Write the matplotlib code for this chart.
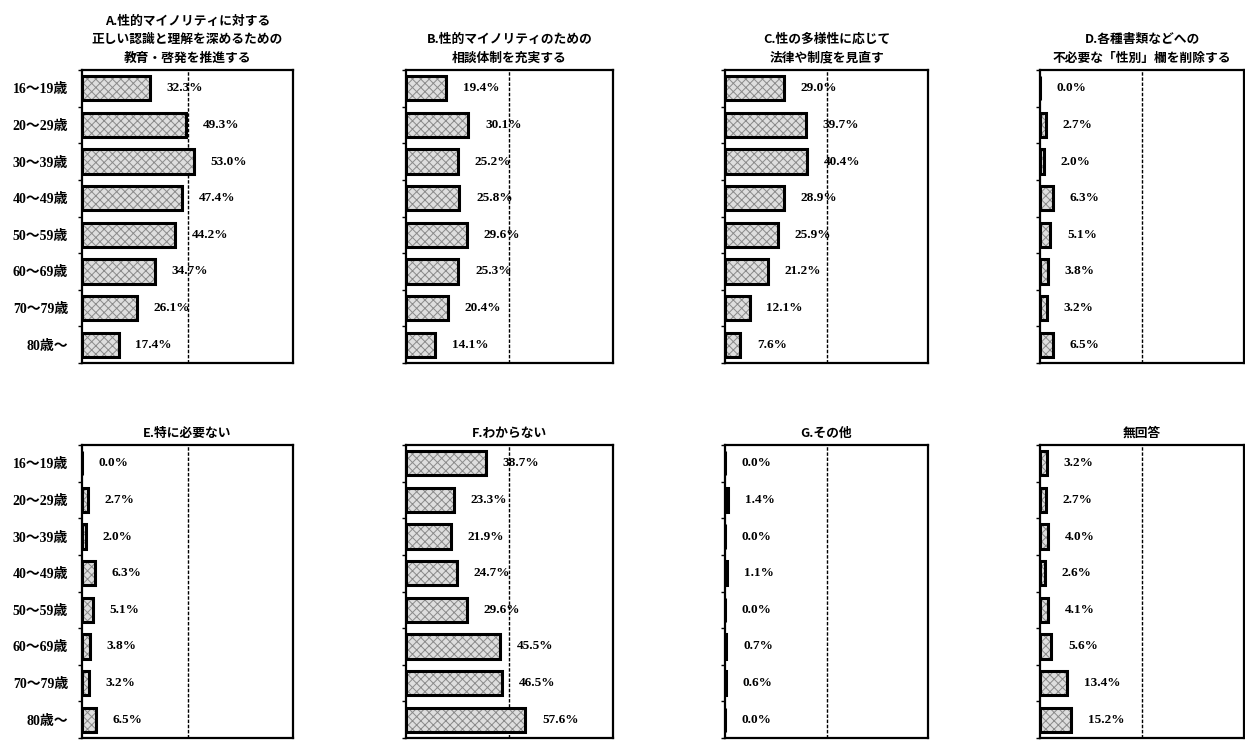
import numpy as np
import matplotlib
matplotlib.use("Agg")
from matplotlib import pyplot as plt

plt.rcParams['font.family'] = ['Noto Sans CJK JP', 'DejaVu Sans']
plt.rcParams['hatch.linewidth'] = 0.7

# 年代区分
ages = ["16～19歳", "20～29歳", "30～39歳", "40～49歳",
        "50～59歳", "60～69歳", "70～79歳", "80歳～"]

# 各設問のタイトル
titles = [
    "A.性的マイノリティに対する\n正しい認識と理解を深めるための\n教育・啓発を推進する",
    "B.性的マイノリティのための\n相談体制を充実する",
    "C.性の多様性に応じて\n法律や制度を見直す",
    "D.各種書類などへの\n不必要な「性別」欄を削除する",
    "E.特に必要ない",
    "F.わからない",
    "G.その他",
    "無回答",
]

# 回答割合（%）
vals_a = [32.3, 49.3, 53.0, 47.4, 44.2, 34.7, 26.1, 17.4]
vals_b = [19.4, 30.1, 25.2, 25.8, 29.6, 25.3, 20.4, 14.1]
vals_c = [29.0, 39.7, 40.4, 28.9, 25.9, 21.2, 12.1, 7.6]
vals_d = [0.0, 2.7, 2.0, 6.3, 5.1, 3.8, 3.2, 6.5]
vals_e = [0.0, 2.7, 2.0, 6.3, 5.1, 3.8, 3.2, 6.5]
vals_f = [38.7, 23.3, 21.9, 24.7, 29.6, 45.5, 46.5, 57.6]
vals_g = [0.0, 1.4, 0.0, 1.1, 0.0, 0.7, 0.6, 0.0]
vals_h = [3.2, 2.7, 4.0, 2.6, 4.1, 5.6, 13.4, 15.2]
all_vals = [vals_a, vals_b, vals_c, vals_d, vals_e, vals_f, vals_g, vals_h]

W, H = 1245, 741
fig = plt.figure(figsize=(W / 100, H / 100), dpi=100)
fig.patch.set_facecolor("white")

col_left = [82, 406, 725, 1040]
col_width = [211, 207, 203, 204]
row_top = [70, 445]
ax_h = 293

num_font = ["Liberation Serif", "Noto Sans CJK JP"]
y = np.arange(len(ages))

for k, vals in enumerate(all_vals):
    r, c = divmod(k, 4)
    left = col_left[c] / W
    bottom = 1 - (row_top[r] + ax_h) / H
    ax = fig.add_axes([left, bottom, col_width[c] / W, ax_h / H])

    # 地の網掛け
    ax.barh(y, vals, height=0.66, color="#dedede", edgecolor="#8a8a8a",
            hatch="xxxx", linewidth=0, zorder=2)
    # 枠線
    ax.barh(y, vals, height=0.66, fill=False, edgecolor="black",
            linewidth=2.2, zorder=3)

    for yi, v in zip(y, vals):
        ax.annotate(f"{v:.1f}%", xy=(v, yi), xytext=(12, 0),
                    textcoords="offset points", va="center", ha="left",
                    fontsize=9.5, fontweight="bold", family=num_font, zorder=4)

    ax.axvline(50, color="black", linestyle=(0, (2.5, 1.2)), linewidth=1.0, zorder=1)

    ax.set_xlim(0, 100)
    ax.set_ylim(len(ages) - 0.5, -0.5)
    ax.set_xticks([])
    ax.set_yticks(y)
    ax.set_yticks(np.arange(len(ages) + 1) - 0.5, minor=True)
    ax.tick_params(axis="y", which="major", length=0, pad=10)
    ax.tick_params(axis="y", which="minor", length=3, width=1, direction="out")
    if c == 0:
        ax.set_yticklabels(ages, fontsize=10, fontweight="bold", family=num_font)
    else:
        ax.set_yticklabels([])
    for s in ax.spines.values():
        s.set_linewidth(1.6)
        s.set_color("black")

    ax.set_title(titles[k], fontsize=9.2, fontweight="bold", linespacing=1.55, pad=6)

fig.savefig("out.png", dpi=100, facecolor="white")
